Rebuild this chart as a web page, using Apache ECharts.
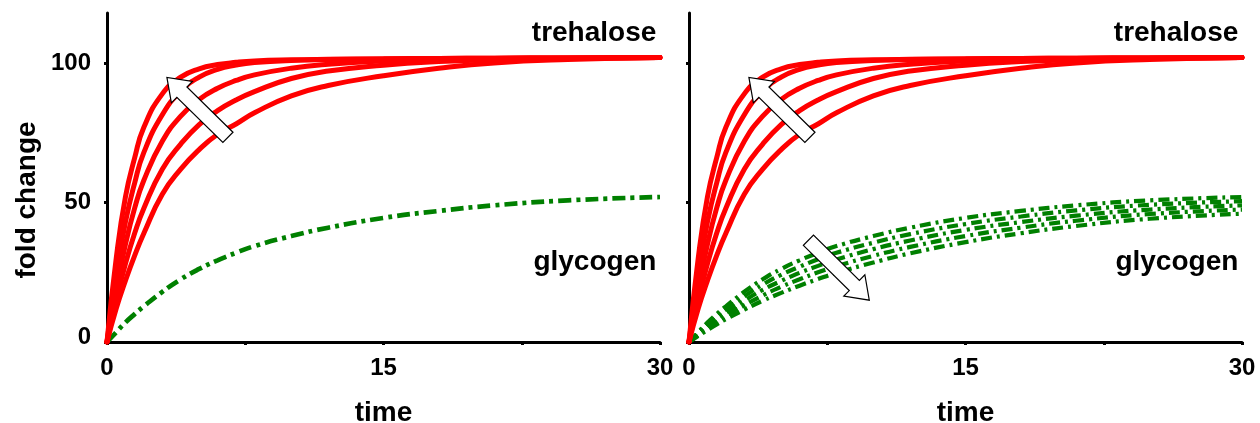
<!DOCTYPE html>
<html><head><meta charset="utf-8">
<script src="https://cdn.jsdelivr.net/npm/echarts@6/dist/echarts.min.js"></script>
<style>html,body{margin:0;padding:0;background:#fff}#c{width:1260px;height:423px}</style>
</head><body><div id="c"></div>
<script>
// ---- data ----
const times = [0, 0.5, 1, 1.5, 2, 3, 4, 5, 6, 7, 8, 10, 12, 15, 18, 21, 25, 30];
const trehalose1 = [0, 30, 52, 66, 77, 89, 95, 98, 99.5, 100.3, 100.8, 101.2, 101.4, 101.6, 101.7, 101.8, 101.9, 102];
const trehalose2 = [0, 24, 43, 57, 68, 81.5, 90, 95, 97.8, 99.3, 100.2, 101, 101.3, 101.5, 101.7, 101.8, 101.9, 102];
const trehalose3 = [0, 19, 35, 48, 58, 72, 81, 87, 91, 93.8, 95.8, 98.2, 99.6, 100.8, 101.4, 101.7, 101.9, 102];
const trehalose4 = [0, 15, 28, 39, 48, 62, 71, 78, 83, 86.8, 89.8, 94.5, 97.2, 99.3, 100.6, 101.3, 101.8, 102];
const trehalose5 = [0, 12, 22, 31, 39, 53, 62, 69, 74.5, 78.2, 82.2, 88.3, 92, 95.5, 98.2, 100.1, 101.3, 102];
const glycogenLeft = [0, 3.5, 7, 10, 12.8, 18, 22.5, 26.2, 29.3, 32, 34.4, 38, 41, 44.5, 47, 49, 50.8, 52];
const glycogenRight1 = [0, 3.5, 7, 10, 12.8, 18, 22.5, 26.2, 29.3, 32, 34.4, 38, 41, 44.5, 47, 49, 50.8, 52];
const glycogenRight2 = [0, 3.2, 6.3, 9.1, 11.7, 16.4, 20.6, 24.1, 27.0, 29.7, 32.0, 35.6, 38.7, 42.3, 45, 47.2, 49.2, 50.5];
const glycogenRight3 = [0, 2.9, 5.7, 8.2, 10.5, 14.8, 18.7, 21.9, 24.8, 27.3, 29.6, 33.3, 36.4, 40.2, 43, 45.3, 47.5, 49];
const glycogenRight4 = [0, 2.5, 5, 7.2, 9.4, 13.2, 16.7, 19.8, 22.5, 25, 27.2, 30.9, 34.1, 38, 41, 43.5, 45.9, 47.5];
const glycogenRight5 = [0, 2.2, 4.3, 6.3, 8.2, 11.6, 14.8, 17.6, 20.2, 22.6, 24.8, 28.5, 31.8, 35.8, 39, 41.6, 44.2, 46];
const xTicks = [0, 7.5, 15, 22.5, 30];
const xTickLabels = [0, 15, 30];
const yTicks = [0, 50, 100];
const yTickLabels = [0, 50, 100];
// annotation anchors in data units: [time, fold change]
const trehaloseArrow = { tail: [6.56, 73.4], tip: [3.25, 94.9] };
const glycogenArrow = { tail: [6.48, 36.5], tip: [9.78, 15.0] };
const trehaloseLabelAt = [29.8, 110.6];
const glycogenLabelAt = [29.8, 28.6];

// ---- chart ----
const FONT = '"Liberation Sans", Arial, Helvetica, sans-serif';
const chart = echarts.init(document.getElementById('c'), null, { renderer: 'canvas' });
const pair = arr => times.map((t, i) => [t, arr[i]]);

function xAxis(gi) {
  return {
    type: 'value', gridIndex: gi, min: 0, max: 30, interval: 7.5,
    name: 'time', nameLocation: 'middle', nameGap: 57,
    nameTextStyle: { fontSize: 28, fontWeight: 'bold', color: '#000', fontFamily: FONT },
    axisLine: { lineStyle: { color: '#000', width: 3 } },
    axisTick: { length: 3, customValues: xTicks, lineStyle: { color: '#000', width: 3 } },
    axisLabel: { customValues: xTickLabels, fontSize: 24, fontWeight: 'bold', color: '#000', fontFamily: FONT, margin: 14 },
    splitLine: { show: false }
  };
}
function yAxis(gi, withLabels) {
  return {
    type: 'value', gridIndex: gi, min: 0, max: 118, interval: 50,
    name: withLabels ? 'fold change' : '', nameLocation: 'middle', nameGap: 66, nameRotate: 90,
    nameTextStyle: { fontSize: 28, fontWeight: 'bold', color: '#000', fontFamily: FONT, padding: [0, 45, 0, 0] },
    axisLine: { show: true, lineStyle: { color: '#000', width: 3 } },
    axisTick: { show: true, length: 3, customValues: yTicks, lineStyle: { color: '#000', width: 3 } },
    axisLabel: {
      show: withLabels, customValues: yTickLabels, fontSize: 24, fontWeight: 'bold', color: '#000', fontFamily: FONT, margin: 16,
      formatter: v => (v === 0 ? '{z|0}' : String(v)),
      rich: { z: { fontSize: 24, fontWeight: 'bold', color: '#000', fontFamily: FONT, padding: [0, 0, 10, 0] } }
    },
    splitLine: { show: false }
  };
}
function red(gi, arr) {
  return { type: 'line', xAxisIndex: gi, yAxisIndex: gi, data: pair(arr), showSymbol: false, symbol: 'none',
    smooth: 0.5, z: 3,
    lineStyle: { color: '#ff0000', width: 5, cap: 'round' } };
}
function green(gi, arr, w, dash) {
  return { type: 'line', xAxisIndex: gi, yAxisIndex: gi, data: pair(arr), showSymbol: false, symbol: 'none',
    smooth: 0.5, z: 2,
    lineStyle: { color: '#008000', width: w, type: dash, cap: 'butt' } };
}

const option = {
  animation: false,
  backgroundColor: '#fff',
  grid: [
    { left: 107, top: 13, width: 553, height: 329, containLabel: false, outerBoundsMode: 'none' },
    { left: 689, top: 13, width: 553, height: 329, containLabel: false, outerBoundsMode: 'none' }
  ],
  xAxis: [xAxis(0), xAxis(1)],
  yAxis: [yAxis(0, true), yAxis(1, false)],
  series: [
    green(0, glycogenLeft, 4.7, [13, 5, 4, 5]),
    red(0, trehalose1), red(0, trehalose2), red(0, trehalose3), red(0, trehalose4), red(0, trehalose5),
    green(1, glycogenRight1, 4.2, [11, 5, 3, 5]),
    green(1, glycogenRight2, 4.2, [11, 5, 3, 5]),
    green(1, glycogenRight3, 4.2, [11, 5, 3, 5]),
    green(1, glycogenRight4, 4.2, [11, 5, 3, 5]),
    green(1, glycogenRight5, 4.2, [11, 5, 3, 5]),
    red(1, trehalose1), red(1, trehalose2), red(1, trehalose3), red(1, trehalose4), red(1, trehalose5)
  ]
};
chart.setOption(option);

function arrowPoints(gi, a) {
  const p0 = chart.convertToPixel({ gridIndex: gi }, a.tail);
  const p1 = chart.convertToPixel({ gridIndex: gi }, a.tip);
  const dx = p1[0] - p0[0], dy = p1[1] - p0[1];
  const L = Math.hypot(dx, dy), ux = dx / L, uy = dy / L, nx = -uy, ny = ux;
  const sw = 7.2, hw = 15, hl = 21;
  const bx = p1[0] - ux * hl, by = p1[1] - uy * hl;
  return [
    [p0[0] + nx * sw, p0[1] + ny * sw],
    [bx + nx * sw, by + ny * sw],
    [bx + nx * hw, by + ny * hw],
    [p1[0], p1[1]],
    [bx - nx * hw, by - ny * hw],
    [bx - nx * sw, by - ny * sw],
    [p0[0] - nx * sw, p0[1] - ny * sw]
  ];
}
function arrow(gi, a) {
  return { type: 'polygon', z: 100, shape: { points: arrowPoints(gi, a) },
    style: { fill: '#fff', stroke: '#000', lineWidth: 1.2 } };
}
function label(gi, pos, text) {
  const p = chart.convertToPixel({ gridIndex: gi }, pos);
  return { type: 'text', z: 100, x: p[0], y: p[1],
    style: { text: text, fill: '#000', fontSize: 28, fontWeight: 'bold', fontFamily: FONT, align: 'right', verticalAlign: 'middle' } };
}
chart.setOption({
  graphic: [
    arrow(0, trehaloseArrow), arrow(1, trehaloseArrow), arrow(1, glycogenArrow),
    label(0, trehaloseLabelAt, 'trehalose'), label(1, trehaloseLabelAt, 'trehalose'),
    label(0, glycogenLabelAt, 'glycogen'), label(1, glycogenLabelAt, 'glycogen')
  ]
});
</script>
</body></html>
